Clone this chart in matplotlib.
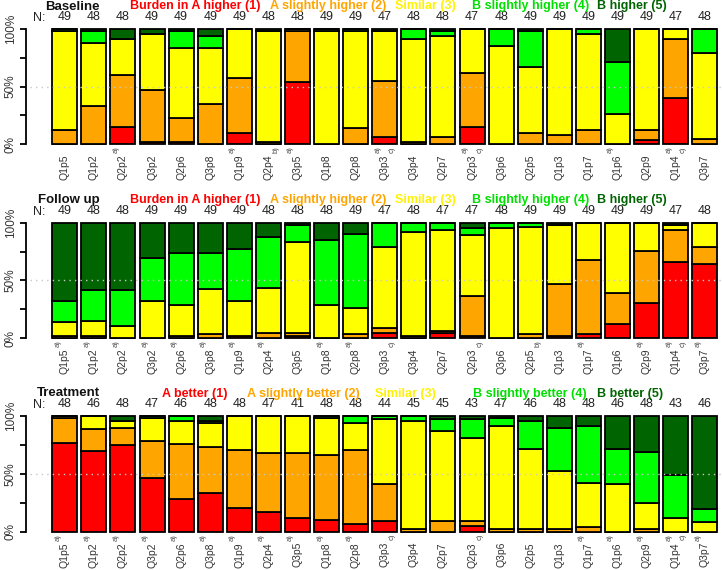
import matplotlib
matplotlib.use("Agg")
import matplotlib.pyplot as plt
import numpy as np

plt.rcParams['font.family'] = ['Liberation Sans', 'DejaVu Sans']

questions = ["Q1p5", "Q1p2", "Q2p2", "Q3p2", "Q2p6", "Q3p8", "Q1p9", "Q2p4", "Q3p5", "Q1p8", "Q2p8",
             "Q3p3", "Q3p4", "Q2p7", "Q2p3", "Q3p6", "Q2p5", "Q1p3", "Q1p7", "Q1p6", "Q2p9", "Q1p4", "Q3p7"]

# Baseline counts per category
base_cat1 = [0, 0, 7, 1, 1, 0, 5, 0, 26, 0, 0, 3, 0, 0, 7, 0, 0, 0, 0, 0, 2, 19, 0]
base_cat2 = [6, 16, 22, 22, 10, 17, 23, 1, 21, 0, 7, 23, 1, 3, 22, 0, 5, 4, 6, 0, 4, 24, 2]
base_cat3 = [42, 26, 15, 24, 30, 24, 21, 46, 1, 48, 41, 20, 43, 42, 18, 41, 28, 45, 41, 13, 43, 4, 36]
base_cat4 = [1, 5, 0, 0, 7, 5, 0, 0, 0, 1, 1, 0, 4, 2, 0, 7, 15, 0, 2, 22, 0, 0, 10]
base_cat5 = [0, 1, 4, 2, 1, 3, 0, 1, 0, 0, 0, 1, 0, 1, 0, 0, 1, 0, 0, 14, 0, 0, 0]

# Follow up counts
fu_cat1 = [0, 0, 0, 0, 0, 0, 1, 0, 1, 0, 0, 2, 0, 2, 1, 0, 0, 1, 2, 6, 15, 31, 31]
fu_cat2 = [1, 1, 0, 0, 1, 2, 0, 2, 1, 0, 2, 2, 1, 1, 16, 0, 2, 22, 31, 13, 22, 13, 7]
fu_cat3 = [6, 6, 5, 16, 13, 19, 15, 19, 38, 14, 11, 33, 43, 41, 25, 46, 45, 25, 16, 30, 12, 2, 10]
fu_cat4 = [9, 13, 15, 18, 22, 15, 22, 21, 7, 27, 31, 10, 4, 3, 3, 2, 2, 0, 0, 0, 0, 0, 0]
fu_cat5 = [33, 28, 28, 15, 13, 13, 11, 6, 1, 7, 5, 0, 0, 0, 2, 0, 0, 1, 0, 0, 0, 1, 0]

# Treatment counts
tr_cat1 = [37, 32, 36, 22, 13, 16, 10, 8, 5, 5, 3, 4, 0, 0, 2, 0, 0, 0, 0, 0, 0, 0, 0]
tr_cat2 = [10, 9, 7, 15, 22, 19, 24, 24, 23, 27, 31, 14, 1, 4, 2, 1, 1, 1, 2, 0, 1, 0, 0]
tr_cat3 = [1, 5, 3, 9, 9, 10, 14, 15, 13, 15, 11, 25, 42, 35, 31, 42, 32, 24, 18, 19, 11, 5, 4]
tr_cat4 = [0, 0, 0, 1, 2, 1, 0, 0, 0, 1, 3, 1, 2, 5, 7, 3, 11, 18, 24, 14, 21, 16, 5]
tr_cat5 = [0, 0, 2, 0, 0, 2, 0, 0, 0, 0, 0, 0, 0, 1, 1, 1, 2, 5, 4, 13, 15, 22, 37]

# annotation marks (left / right of each bar)
base_left = ["", "", "a)", "", "", "", "a)", "", "a)", "", "", "a)", "", "", "a)", "", "", "", "", "a)", "", "a)", ""]
base_right = ["", "", "", "", "", "", "", "b)", "", "", "", "c)", "", "", "c)", "", "", "", "", "", "", "c)", ""]
fu_left = ["a)", "a)", "a)", "a)", "a)", "a)", "a)", "a)", "", "a)", "a)", "", "", "", "", "", "", "", "a)", "", "a)", "a)", "a)"]
fu_right = ["", "", "", "", "", "", "", "", "", "", "", "c)", "", "", "c)", "", "b)", "", "", "", "", "c)", ""]
tr_left = ["a)"] * 11 + ["", "", "", "", "", "", "", "a)", "a)", "a)", "a)", "a)"]
tr_right = ["", "", "", "", "", "", "", "", "", "", "", "c)", "", "", "c)", "", "", "", "", "", "", "c)", ""]

panel_titles = ["Baseline", "Follow up", "Treatment"]
legend_burden = ["Burden in A higher (1)", "A slightly higher (2)", "Similar (3)",
                 "B slightly higher (4)", "B higher (5)"]
legend_treat = ["A better (1)", "A slightly better (2)", "Similar (3)",
                "B slightly better (4)", "B better (5)"]

colors = ["#FF0000", "#FFA500", "#FFFF00", "#00FF00", "#006400"]
text_colors = ["#FF0000", "#FFA500", "#FFF200", "#00E000", "#006400"]

panels = [
    (panel_titles[0], [base_cat1, base_cat2, base_cat3, base_cat4, base_cat5], base_left, base_right, legend_burden,
     [130, 270, 395, 472, 597]),
    (panel_titles[1], [fu_cat1, fu_cat2, fu_cat3, fu_cat4, fu_cat5], fu_left, fu_right, legend_burden,
     [130, 270, 395, 472, 597]),
    (panel_titles[2], [tr_cat1, tr_cat2, tr_cat3, tr_cat4, tr_cat5], tr_left, tr_right, legend_treat,
     [162, 247, 375, 473, 597]),
]

W, H = 722, 570
fig = plt.figure(figsize=(W / 100, H / 100), dpi=100)

# pixel geometry (top of 100%, bottom 0%)
panel_px = [(29.0, 144.3), (222.7, 338.3), (416.0, 531.7)]
ax_left_px = 26.0
pitch = 29.09
c0 = 64.8
xmin = (ax_left_px - c0) / pitch
xmax = (W - c0) / pitch
bw = 25.0 / pitch

x = np.arange(len(questions))

for (title, cats, left_marks, right_marks, legend, leg_x), (top_px, bot_px) in zip(panels, panel_px):
    ax = fig.add_axes([ax_left_px / W, 1 - bot_px / H, 1 - ax_left_px / W, (bot_px - top_px) / H])
    counts = np.array(cats, dtype=float)
    totals = counts.sum(axis=0)
    pct = counts / totals * 100
    bottom = np.zeros(len(questions))
    for k in range(5):
        ax.bar(x, pct[k], bottom=bottom, width=bw, color=colors[k], edgecolor="black",
               linewidth=1.3, clip_on=False, zorder=2)
        bottom += pct[k]
    ax.plot([xmin + 0.15, xmax], [50, 50], linestyle=(0, (1, 3)), color="#C8C8C8", lw=1.0,
            zorder=5, clip_on=False)
    ax.set_xlim(xmin, xmax)
    ax.set_ylim(0, 100)
    for s in ["top", "right", "bottom"]:
        ax.spines[s].set_visible(False)
    ax.spines["left"].set_linewidth(1.3)
    ax.set_xticks([])
    ax.set_yticks([0, 25, 50, 75, 100])
    ax.set_yticklabels(["0%", "", "50%", "", "100%"], rotation=90, va="center", fontsize=8.5,
                       color="#333333")
    ax.tick_params(axis="y", length=4.5, width=1.3, pad=2)
    ax.patch.set_visible(False)

    for i, q in enumerate(questions):
        ax.annotate(q, xy=(i, 0), xytext=(0, -7.5), textcoords="offset points", rotation=90,
                    ha="center", va="top", fontsize=7.5, color="#333333", annotation_clip=False)
        ax.annotate(str(int(totals[i])), xy=(i, 100), xytext=(0, 8.5), textcoords="offset points",
                    ha="center", va="center", fontsize=9, color="#222222", annotation_clip=False)
        if left_marks[i]:
            ax.annotate(left_marks[i], xy=(i - bw / 2, 0), xytext=(1.5, -1.5), textcoords="offset points",
                        rotation=90, ha="left", va="top", fontsize=5.5, color="#444444",
                        annotation_clip=False)
        if right_marks[i]:
            ax.annotate(right_marks[i], xy=(i + bw / 2, 0), xytext=(-1.0, -1.5), textcoords="offset points",
                        rotation=90, ha="right", va="top", fontsize=5.5, color="#444444",
                        annotation_clip=False)

    # N: label
    fig.text(45 / W, 1 - (top_px - 11) / H, "N:", ha="right", va="center", fontsize=9, color="#222222")
    # title & legend
    ty = 1 - (top_px - 22.5) / H
    fig.text(100 / W, ty, title, ha="right", va="center", fontsize=9.5, fontweight="bold", color="#111111")
    for lx, lab, col in zip(leg_x, legend, text_colors):
        fig.text(lx / W, ty, lab, ha="left", va="center", fontsize=9, fontweight="bold", color=col)

fig.savefig("out.png", dpi=100)
